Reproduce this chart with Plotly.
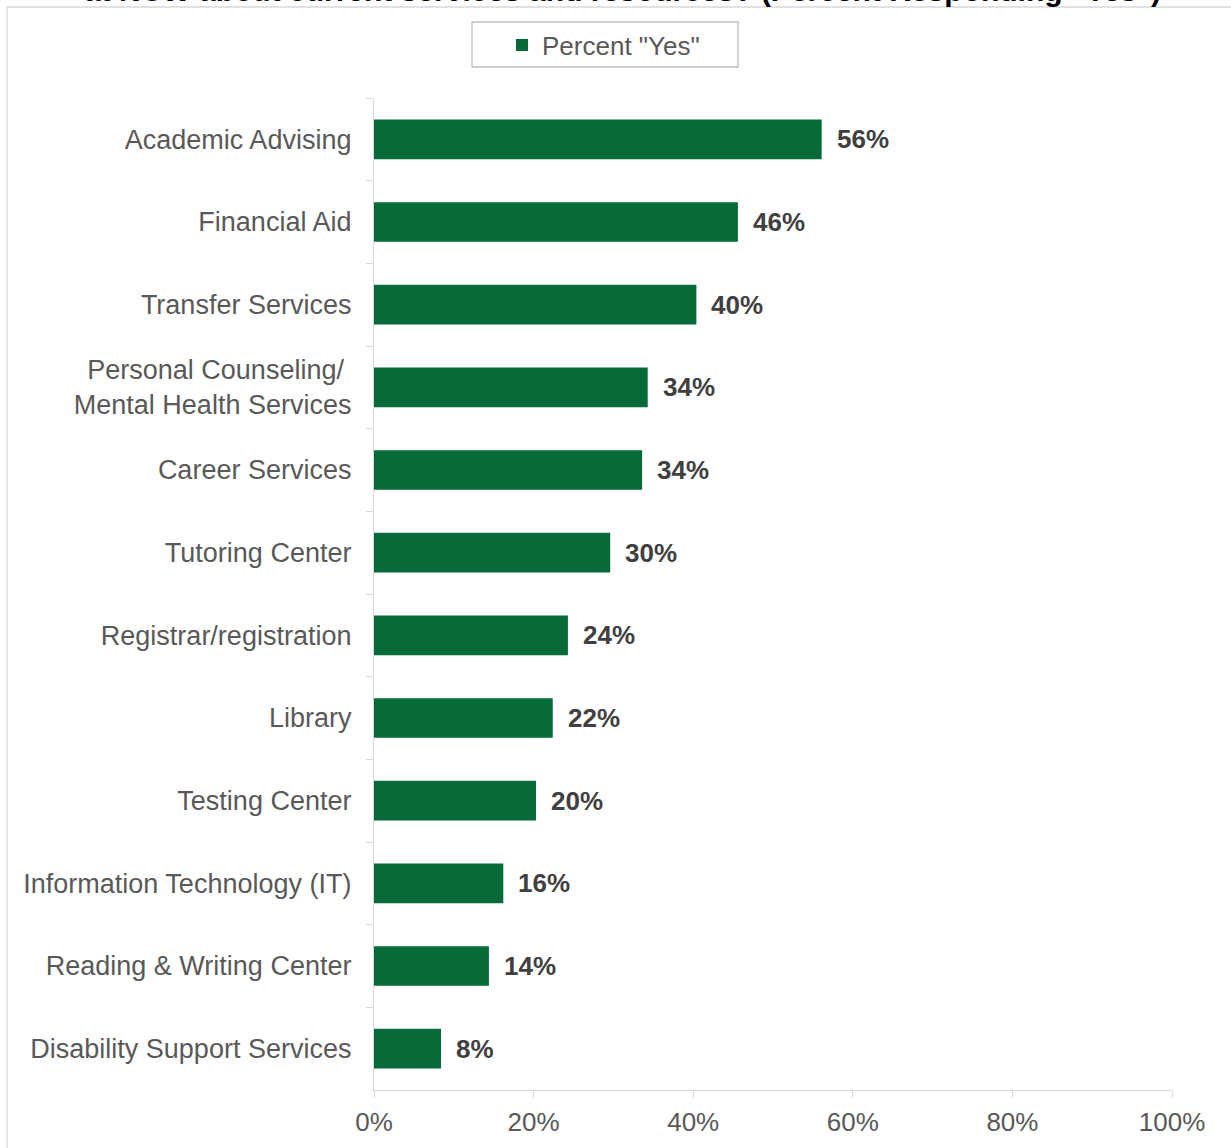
import plotly.graph_objects as go

categories = [
    "Academic Advising",
    "Financial Aid",
    "Transfer Services",
    "Personal Counseling/\u00a0<br>Mental Health Services",
    "Career Services",
    "Tutoring Center",
    "Registrar/registration",
    "Library",
    "Testing Center",
    "Information Technology (IT)",
    "Reading & Writing Center",
    "Disability Support Services",
]
values = [56.1, 45.6, 40.4, 34.3, 33.6, 29.6, 24.3, 22.4, 20.3, 16.2, 14.4, 8.4]
labels = ["56%", "46%", "40%", "34%", "34%", "30%", "24%", "22%", "20%", "16%", "14%", "8%"]
x_ticks = [0, 20, 40, 60, 80, 100]
x_tick_labels = ["0%", "20%", "40%", "60%", "80%", "100%"]
series_name = 'Percent "Yes"'
title_text = 'at NCW about current services and resources? (Percent Responding "Yes")'

W, H = 1231, 1148
L, R, T, B = 374, 59, 98, 58
pw, ph = W - L - R, H - T - B

def px_x(p):
    return (p - L) / pw

def px_y(p):
    return (H - B - p) / ph

FONT = "Liberation Sans, Arial, sans-serif"
GREEN = "#066b38"

fig = go.Figure()
fig.add_trace(go.Bar(
    x=values, y=categories, orientation="h", name=series_name,
    marker=dict(color=GREEN, line=dict(width=0)), width=0.48,
    hoverinfo="x+y",
))

for v, c, t in zip(values, categories, labels):
    fig.add_annotation(x=v, y=c, xref="x", yref="y", text=f"<b>{t}</b>",
                       showarrow=False, xanchor="left", yanchor="middle", xshift=13,
                       font=dict(family=FONT, size=26, color="#404040"))

fig.add_annotation(x=px_x(622), y=px_y(9), xref="paper", yref="paper",
                   text=f"<b>{title_text}</b>", showarrow=False,
                   xanchor="center", yanchor="bottom",
                   font=dict(family=FONT, size=30, color="#000000"))

# outer chart border
fig.add_shape(type="rect", xref="paper", yref="paper",
              x0=px_x(7), x1=px_x(1260), y0=px_y(1170), y1=px_y(7),
              line=dict(color="#d9d9d9", width=1.3), fillcolor="rgba(0,0,0,0)", layer="below")
# legend border
fig.add_shape(type="rect", xref="paper", yref="paper",
              x0=px_x(472), x1=px_x(738), y0=px_y(67), y1=px_y(22),
              line=dict(color="#bfbfbf", width=1.3), fillcolor="rgba(0,0,0,0)")

fig.update_layout(
    width=W, height=H,
    margin=dict(l=L, r=R, t=T, b=B, pad=0),
    paper_bgcolor="white", plot_bgcolor="white",
    font=dict(family=FONT, size=26, color="#595959"),
    showlegend=True,
    legend=dict(x=px_x(502), y=px_y(45), xanchor="left", yanchor="middle",
                orientation="h", bgcolor="rgba(0,0,0,0)", borderwidth=0,
                font=dict(family=FONT, size=26, color="#595959")),
    bargap=0.52,
)
fig.update_xaxes(range=[0, 100], tickmode="array", tickvals=x_ticks, ticktext=x_tick_labels,
                 showgrid=False, zeroline=False, showline=True,
                 linecolor="#d9d9d9", linewidth=1.3,
                 ticks="outside", ticklen=7, tickcolor="#d9d9d9", tickwidth=1.3,
                 ticklabelstandoff=2,
                 tickfont=dict(family=FONT, size=26, color="#595959"))
fig.update_yaxes(categoryorder="array", categoryarray=categories, autorange="reversed",
                 showgrid=False, zeroline=False, showline=True,
                 linecolor="#d9d9d9", linewidth=1.3,
                 ticks="outside", ticklen=7, tickcolor="#d9d9d9", tickwidth=1.3,
                 tickson="boundaries", ticklabelstandoff=16,
                 tickfont=dict(family=FONT, size=27, color="#595959"))

fig.write_html("out.html", config={"displayModeBar": False},
               post_script="document.body.style.margin='0';")
